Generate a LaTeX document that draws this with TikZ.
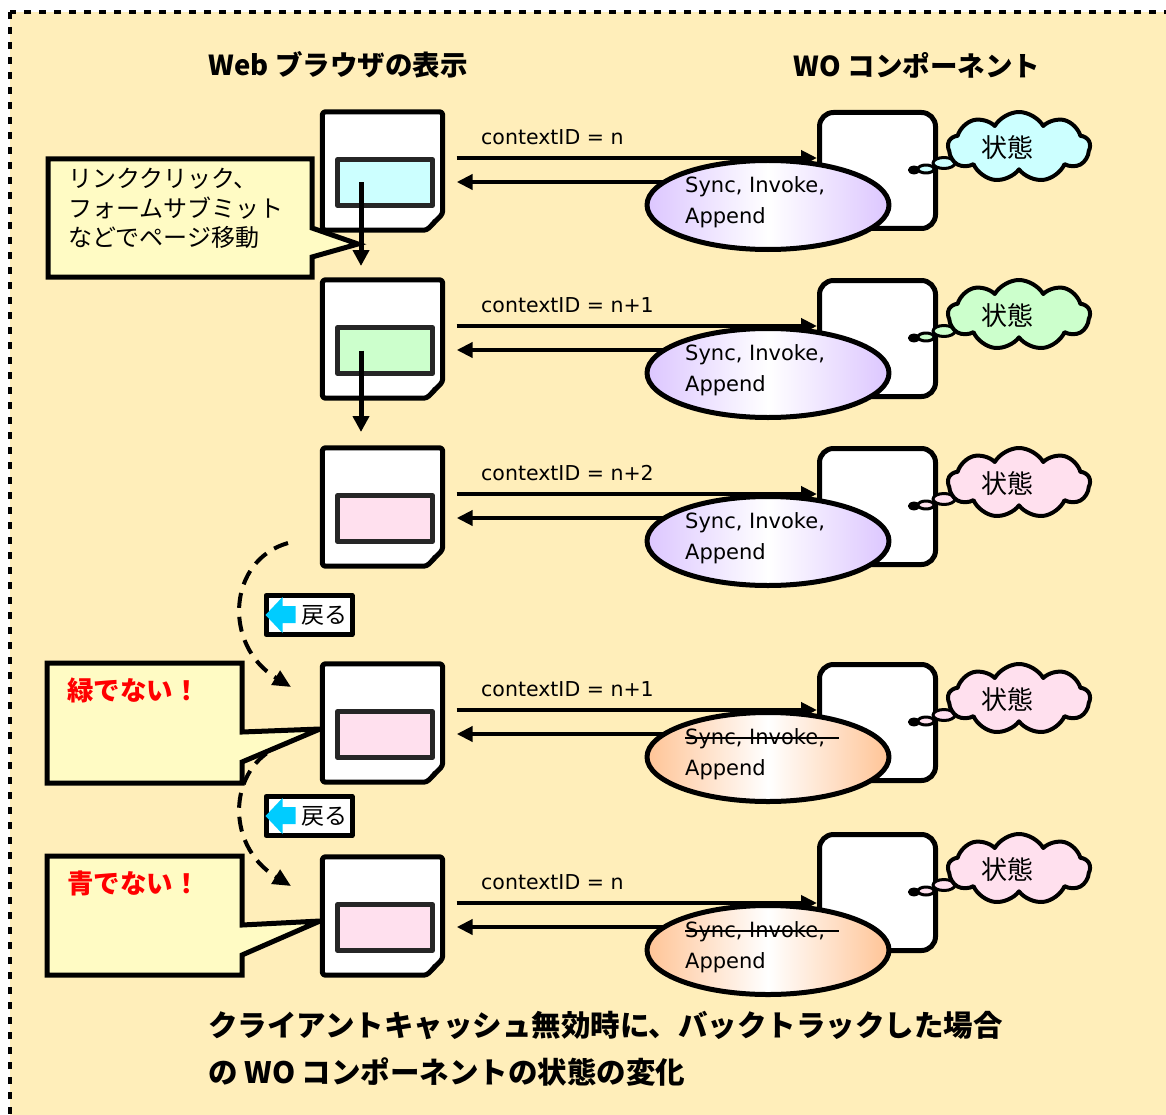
\documentclass[tikz,border=0pt]{standalone}
\usepackage{fontspec}
\setmainfont{Noto Sans CJK JP}
\newfontfamily\lat{DejaVu Sans}
\usetikzlibrary{arrows.meta,shapes.geometric,shapes.symbols,calc}
\pgfdeclarelayer{bottom}
\pgfdeclarelayer{links}
\pgfsetlayers{bottom,links,main}
\definecolor{bg}{HTML}{FFEEBA}
\definecolor{callout}{HTML}{FFFBC4}
\definecolor{cyanf}{HTML}{CCFFFF}
\definecolor{greenf}{HTML}{CCFFCC}
\definecolor{pinkf}{HTML}{FFE0EE}
\definecolor{purp}{HTML}{DCC6FF}
\definecolor{oran}{HTML}{FFC496}
\definecolor{btncyan}{HTML}{00CCFF}
\definecolor{warn}{HTML}{FF0000}
\tikzset{
  pageline/.style={line width=5pt, fill=white, rounded corners=3pt},
  pagebox/.style={minimum width=120pt, minimum height=118pt, inner sep=0pt},
  innerbox/.style={draw=black!85, line width=4.5pt, minimum width=95pt, minimum height=46pt, inner sep=0pt},
  compbox/.style={draw, line width=5pt, fill=white, rounded corners=14pt, minimum width=116pt, minimum height=116pt, inner sep=0pt},
  msg/.style={line width=4pt, -{Triangle[length=16pt,width=15pt]}},
  vert/.style={line width=5pt, -{Triangle[length=16pt,width=16pt]}},
  back/.style={line width=4pt, dash pattern=on 15pt off 9pt, -{Triangle[length=18pt,width=16pt]}},
  ell/.style={ellipse, draw, line width=5pt, minimum width=242pt, minimum height=89pt, inner sep=0pt},
  cloudbox/.style={cloud, cloud puffs=9, cloud puff arc=120, aspect=2, draw, line width=4pt, minimum width=142pt, minimum height=70pt, inner sep=0pt},
  cloudtxt/.style={inner sep=0pt, font=\fontsize{26}{28}\selectfont},
  bubble/.style={ellipse, draw, line width=3pt, inner sep=0pt},
  lbl/.style={inner sep=0pt, font=\lat\fontsize{20.5}{24}\selectfont},
  title/.style={inner sep=0pt, font=\bfseries\fontsize{27.5}{32}\selectfont},
  foot/.style={inner sep=0pt, anchor=west, font=\bfseries\fontsize{29.5}{32}\selectfont},
  calloutline/.style={line width=5pt, fill=callout, line join=miter},
  btn/.style={draw, line width=5pt, fill=white, minimum width=86pt, minimum height=39pt, inner sep=0pt},
  btntxt/.style={inner sep=0pt, font=\fontsize{23}{26}\selectfont},
  warntxt/.style={inner sep=0pt, anchor=west, text=warn, font=\bfseries\fontsize{26.5}{28}\selectfont},
}
\begin{document}
\begin{tikzpicture}[x=1pt,y=-1pt,line join=round]
\useasboundingbox (0,0) rectangle (1166,1115);
\begin{pgfonlayer}{bottom}
\fill[white] (0,0) rectangle (1166,1115);
\draw[fill=bg, line width=3.5pt, dash pattern=on 7pt off 8pt] (10,12) rectangle (1200,1150);
\end{pgfonlayer}

% titles
\node[title] (h1) at (338,65) {Web ブラウザの表示};
\node[title] (h2) at (917,65) {WO コンポーネント};

% callouts
\draw[calloutline] (48,159) -- (312,159) -- (312,228) -- (358,244) -- (312,257) -- (312,277) -- (48,277) -- cycle;
\node[anchor=north west, align=left, inner sep=0pt, font=\fontsize{24}{29.5}\selectfont] (t1) at (68,168) {リンククリック、\\フォームサブミット\\などでページ移動};
\draw[calloutline] (47,663) -- (242,663) -- (242,732) -- (320,729) -- (242,762) -- (242,783) -- (47,783) -- cycle;
\node[warntxt] (t2) at (67,690) {緑でない！};
\draw[calloutline] (47,856) -- (242,856) -- (242,925) -- (320,921) -- (242,955) -- (242,975) -- (47,975) -- cycle;
\node[warntxt] (t3) at (67,883) {青でない！};

\foreach \r/\T/\dc/\fy/\ic/\ec/\sy/\txt in {
  1/110/0/12.5/cyanf/purp/0/n,
  2/278/0/12.5/greenf/purp/0/n+1,
  3/446/0/12.5/pinkf/purp/0/n+2,
  4/662/0/12.5/pinkf/oran/1/n+1,
  5/855/-23/-10.5/pinkf/oran/1/n}{
  % page
  \node[pagebox] (p\r) at (382.5,\T+61) {};
  \draw[pageline] (p\r.north west) -- (p\r.north east) -- ($(p\r.north east)+(0,102)$)
     -- ($(p\r.south east)+(-16,0)$) -- (p\r.south west) -- cycle;
  \fill ($(p\r.north east)+(-1,104)$) -- ($(p\r.north east)+(-10,108)$) -- ($(p\r.north east)+(-12,116)$) -- cycle;
  \node[innerbox, fill=\ic] (i\r) at (385,\T+72.5) {};
  % component
  \node[compbox] (c\r) at (877.5,\T+60.5+\dc) {};
  \node[bubble, fill=black, minimum width=9pt, minimum height=6pt] (bz\r) at (914,\T+60+\dc) {};
  \node[bubble, fill=\ic, minimum width=16pt, minimum height=8pt] (ba\r) at (926,\T+59+\dc) {};
  \node[bubble, fill=\ic, minimum width=22pt, minimum height=11pt] (bb\r) at (944,\T+53+\dc) {};
  \node[cloudbox, fill=\ic] (k\r) at (1019,\T+37+\dc) {};
  \node[cloudtxt] (kt\r) at (1007,\T+38+\dc) {状態};
  % label
  \node[lbl, anchor=west] (l\r) at (481,\T+27) {contextID = \txt};
  % ellipse
  \node[ell, left color=\ec, right color=\ec, middle color=white] (e\r) at (768,\T+95) {};
  \node[lbl, anchor=west, font=\lat\fontsize{21}{24}\selectfont] (s\r) at (685,\T+77) {Sync, Invoke,};
  \node[lbl, anchor=west, font=\lat\fontsize{21}{24}\selectfont] (a\r) at (685,\T+108) {Append};
  \ifnum\sy=1
    \draw[line width=2pt] ([yshift=1pt]s\r.west) -- ([xshift=14pt,yshift=1pt]s\r.east);
  \fi
  % messages
  \begin{pgfonlayer}{links}
    \draw[msg] ([xshift=14pt,yshift=13pt]p\r.east) -- ([yshift=\fy pt]c\r.west);
    \draw[msg] ([xshift=60pt,yshift=23pt]e\r.west) -- ([xshift=14pt,yshift=-11pt]p\r.east);
  \end{pgfonlayer}
}

% back buttons
\foreach \b/\y in {1/615, 2/816}{
  \node[btn] (r\b) at (309,\y) {};
  \fill[btncyan] ([xshift=2pt]r\b.west) -- ++(17,-18) -- ++(0,9) -- ++(13,0) -- ++(0,17) -- ++(-13,0) -- ++(0,10) -- cycle;
  \node[btntxt] (rt\b) at (324,\y) {戻る};
}

% page-to-page arrows
\coordinate (v1) at (361,266);
\coordinate (v2) at (361,432);
\draw[vert] ([xshift=-24pt]i1.center) -- (v1);
\draw[vert] ([xshift=-24pt]i2.center) -- (v2);

% backtrack arcs
\coordinate (d1s) at (288,543);
\coordinate (d1e) at (291,687);
\coordinate (d2s) at (288,743);
\coordinate (d2e) at (291,886);
\begin{pgfonlayer}{links}
\draw[back] (d1s) .. controls (228,560) and (222,645) .. (d1e);
\draw[back] (d2s) .. controls (228,760) and (222,844) .. (d2e);
\end{pgfonlayer}

% footer
\node[foot] (f1) at (208,1025) {クライアントキャッシュ無効時に、バックトラックした場合};
\node[foot] (f2) at (208,1072) {の WO コンポーネントの状態の変化};
\end{tikzpicture}
\end{document}
